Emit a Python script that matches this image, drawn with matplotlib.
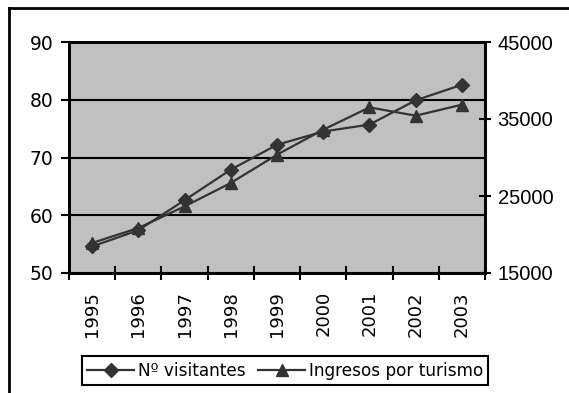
import matplotlib.pyplot as plt
from matplotlib.lines import Line2D

years = ['1995', '1996', '1997', '1998', '1999', '2000', '2001', '2002', '2003']
visitantes = [54.6, 57.4, 62.6, 67.9, 72.2, 74.5, 75.7, 79.9, 82.6]
ingresos = [18900, 20840, 23650, 26690, 30360, 33610, 36510, 35430, 36860]

left_ticks = [50, 60, 70, 80, 90]
right_ticks = [15000, 25000, 35000, 45000]

W, H = 569, 393
fig = plt.figure(figsize=(W / 100, H / 100), dpi=100)
ax = fig.add_axes([69 / W, 1 - 273 / H, 416 / W, 231 / H])
ax2 = ax.twinx()

line_col = '#333333'
x = list(range(len(years)))
l1, = ax.plot(x, visitantes, color=line_col, lw=1.6, marker='D', ms=7,
              mfc=line_col, mec=line_col, label='Nº visitantes')
l2, = ax2.plot(x, ingresos, color=line_col, lw=1.6, marker='^', ms=9,
               mfc=line_col, mec=line_col, label='Ingresos por turismo')

ax.set_facecolor('#C0C0C0')
ax.set_xlim(-0.5, len(years) - 0.5)
ax.set_ylim(50, 90)
ax2.set_ylim(15000, 45000)

ax.set_yticks(left_ticks)
ax.yaxis.grid(True, color='black', lw=1.5)
ax.set_axisbelow(True)
ax.tick_params(axis='y', direction='out', length=6, width=1.5, pad=5,
               labelsize=13.5, colors='black')

# category boundaries carry the ticks, labels sit at the centres
ax.set_xticks([i - 0.5 for i in range(len(years) + 1)])
ax.set_xticklabels([])
ax.set_xticks(x, minor=True)
ax.set_xticklabels(years, minor=True, rotation=90, fontsize=13)
ax.tick_params(axis='x', which='major', direction='inout', length=10, width=1.5)
ax.tick_params(axis='x', which='minor', length=0, pad=13)

ax2.set_yticks(right_ticks)
ax2.set_yticklabels([str(t) for t in right_ticks], family='Liberation Sans', fontsize=14.5)
ax2.tick_params(axis='y', direction='inout', length=8, width=1.5, pad=5)

for a in (ax, ax2):
    for s in a.spines.values():
        s.set_linewidth(2)
        s.set_color('black')

fig.legend(handles=[l1, l2], loc='center',
           bbox_to_anchor=(285 / W, 1 - 370.5 / H), ncol=2, fontsize=12.2,
           frameon=True, fancybox=False, edgecolor='black', framealpha=1,
           handlelength=2.8, handletextpad=0.2, columnspacing=0.75,
           borderpad=0.3).get_frame().set_linewidth(1.5)

# outer chart border (left and top edges)
fig.add_artist(Line2D([8.5 / W, 8.5 / W], [0, 1 - 7.5 / H], transform=fig.transFigure,
                      color='black', lw=2))
fig.add_artist(Line2D([8.5 / W, 1], [1 - 7.5 / H, 1 - 7.5 / H], transform=fig.transFigure,
                      color='black', lw=2))

fig.savefig('out.png', dpi=100)
